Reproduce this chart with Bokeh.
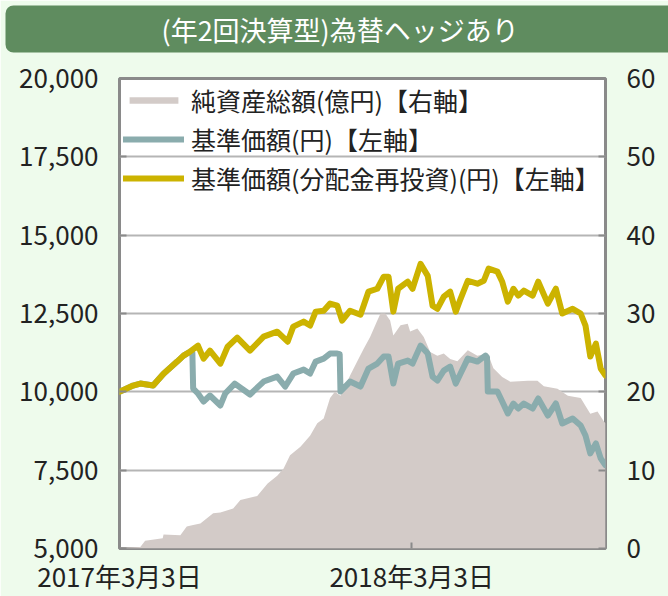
import pandas as pd
from bokeh.plotting import figure
from bokeh.models import (Range1d, LinearAxis, FixedTicker, NumeralTickFormatter, Title,
                          CustomJSTickFormatter, Legend, LegendItem, ColumnDataSource)
from bokeh.embed import file_html
from bokeh.resources import INLINE

# ---------------- data ----------------
title_text = "(年2回決算型)為替ヘッジあり"
legend_labels = ["純資産総額(億円)【右軸】", "基準価額(円)【左軸】", "基準価額(分配金再投資)(円)【左軸】"]
x_tick_dates = ["2017-03-03", "2018-03-03"]
x_tick_labels = ["2017年3月3日", "2018年3月3日"]
x_start, x_end = "2017-03-03", "2018-10-31"
left_ticks = [5000, 7500, 10000, 12500, 15000, 17500, 20000]
right_ticks = [0, 10, 20, 30, 40, 50, 60]

assets_dates = ["2017-03-03", "2017-03-29", "2017-04-04", "2017-04-26", "2017-04-27", "2017-05-18",
                "2017-05-26", "2017-06-03", "2017-06-12", "2017-06-28", "2017-07-07", "2017-07-23",
                "2017-08-01", "2017-08-22", "2017-09-04", "2017-09-16", "2017-09-24", "2017-10-02",
                "2017-10-15", "2017-10-27", "2017-11-05", "2017-11-13", "2017-11-21", "2017-11-27",
                "2017-12-04", "2017-12-16", "2017-12-25", "2018-01-02", "2018-01-10", "2018-01-19",
                "2018-01-23", "2018-01-29", "2018-02-04", "2018-02-08", "2018-02-17", "2018-02-26",
                "2018-03-01", "2018-03-10", "2018-03-18", "2018-03-26", "2018-04-04", "2018-04-12",
                "2018-04-20", "2018-04-29", "2018-05-12", "2018-05-24", "2018-06-06", "2018-06-13",
                "2018-06-24", "2018-07-04", "2018-07-26", "2018-08-07", "2018-08-15", "2018-09-01",
                "2018-09-14", "2018-09-30", "2018-10-12", "2018-10-21", "2018-10-29", "2018-10-31"]
assets_values = [0.1, 0.2, 1.0, 1.3, 1.8, 1.7,
                 2.8, 3.0, 3.2, 4.5, 4.6, 5.1,
                 6.2, 6.7, 8.3, 9.3, 10.2, 11.9,
                 13.0, 14.4, 16.0, 16.6, 19.2, 20.0,
                 19.5, 22.1, 23.9, 25.5, 27.0, 29.1,
                 30.0, 30.0, 29.1, 27.2, 28.5, 28.7,
                 27.7, 28.1, 27.0, 25.1, 24.6, 24.9,
                 24.2, 23.9, 25.3, 24.6, 24.9, 23.0,
                 21.9, 21.3, 21.4, 21.4, 20.7, 20.4,
                 19.5, 19.2, 17.2, 17.5, 16.2, 16.0]

nav_dates = ["2017-03-03", "2017-03-20", "2017-03-29", "2017-04-14", "2017-04-27", "2017-05-14",
             "2017-05-22", "2017-05-30", "2017-06-02", "2017-06-03", "2017-06-09", "2017-06-16",
             "2017-06-24", "2017-07-07", "2017-07-13", "2017-07-25", "2017-08-13", "2017-08-30",
             "2017-09-16", "2017-09-26", "2017-10-06", "2017-10-19", "2017-10-27", "2017-11-03",
             "2017-11-13", "2017-11-21", "2017-11-30", "2017-12-03", "2017-12-04", "2017-12-16",
             "2017-12-29", "2018-01-08", "2018-01-19", "2018-01-27", "2018-02-02", "2018-02-08",
             "2018-02-14", "2018-02-26", "2018-03-04", "2018-03-14", "2018-03-23", "2018-03-29",
             "2018-04-04", "2018-04-12", "2018-04-20", "2018-04-27", "2018-05-03", "2018-05-12",
             "2018-05-24", "2018-06-03", "2018-06-05", "2018-06-06", "2018-06-18", "2018-06-24",
             "2018-07-01", "2018-07-08", "2018-07-14", "2018-07-21", "2018-08-01", "2018-08-08",
             "2018-08-20", "2018-08-30", "2018-09-07", "2018-09-20", "2018-09-30", "2018-10-06",
             "2018-10-12", "2018-10-19", "2018-10-25", "2018-10-31"]
nav_values = [10000, 10200, 10265, 10200, 10580, 10965,
              11155, 11280, 11250, 10105, 9946, 9691,
              9882, 9564, 9946, 10264, 9914, 10328,
              10487, 10169, 10583, 10710, 10583, 10965,
              11060, 11220, 11220, 11200, 10010, 10328,
              10169, 10742, 10902, 11125, 11125, 10264,
              10902, 10997, 10902, 11475, 11220, 10487,
              10360, 10678, 10806, 10264, 10583, 11060,
              10965, 11156, 11100, 10010, 10010, 9691,
              9309, 9627, 9468, 9627, 9468, 9787,
              9245, 9627, 8990, 9150, 8927, 8608,
              8035, 8353, 7876, 7653]

reinv_dates = ["2017-03-03", "2017-03-20", "2017-03-29", "2017-04-14", "2017-04-27", "2017-05-14",
               "2017-05-22", "2017-05-30", "2017-06-09", "2017-06-16", "2017-06-24", "2017-07-07",
               "2017-07-16", "2017-07-28", "2017-08-13", "2017-08-30", "2017-09-16", "2017-09-29",
               "2017-10-06", "2017-10-19", "2017-10-27", "2017-11-03", "2017-11-13", "2017-11-21",
               "2017-11-30", "2017-12-06", "2017-12-16", "2017-12-29", "2018-01-08", "2018-01-19",
               "2018-01-27", "2018-02-02", "2018-02-08", "2018-02-14", "2018-02-26", "2018-03-04",
               "2018-03-14", "2018-03-23", "2018-03-29", "2018-04-04", "2018-04-12", "2018-04-20",
               "2018-04-27", "2018-05-03", "2018-05-12", "2018-05-24", "2018-06-01", "2018-06-07",
               "2018-06-18", "2018-06-24", "2018-07-01", "2018-07-08", "2018-07-14", "2018-07-21",
               "2018-08-01", "2018-08-08", "2018-08-20", "2018-08-30", "2018-09-07", "2018-09-20",
               "2018-09-30", "2018-10-06", "2018-10-12", "2018-10-19", "2018-10-25", "2018-10-31"]
reinv_values = [10000, 10200, 10265, 10200, 10580, 10965,
                11155, 11280, 11475, 11060, 11315, 10900,
                11440, 11730, 11315, 11760, 11920, 11600,
                12080, 12240, 12115, 12560, 12590, 12815,
                12750, 12270, 12590, 12460, 13200, 13290,
                13675, 13675, 12560, 13290, 13515, 13290,
                14085, 13700, 12750, 12650, 13035, 13195,
                12560, 12970, 13545, 13450, 13545, 13930,
                13835, 13515, 12880, 13290, 13070, 13230,
                13070, 13515, 12815, 13290, 12500, 12650,
                12500, 12115, 11130, 11540, 10745, 10520]

# ---------------- style ----------------
BG = "#eefbec"
BANNER = "#5f8c5f"
FRAME = "#8a8a8a"
GRID = "#b5b5b5"
AREA = "#d3cbc8"
NAV = "#8aacad"
REINV = "#ccb300"
FONT = "Noto Sans CJK JP"
TXT = "#222222"

W, H = 668, 596
FL, FR, FT, FB = 119, 605, 78, 550   # frame edges on the canvas

title = Title(text=title_text, align="left", offset=5 - FL, standoff=2,
              text_color="white", text_font=FONT, text_font_size="27px", text_font_style="normal",
              background_fill_color=BANNER, border_line_color=None, border_radius=8,
              padding=dict(left=156, right=170, top=4, bottom=4))

p = figure(width=W, height=H, x_axis_type="datetime", output_backend="svg",
           toolbar_location=None, title=title,
           x_range=Range1d(pd.Timestamp(x_start), pd.Timestamp(x_end)),
           y_range=Range1d(left_ticks[0], left_ticks[-1]),
           min_border_left=FL, min_border_right=W - FR, min_border_top=FT, min_border_bottom=H - FB,
           background_fill_color="white", border_fill_color=BG,
           outline_line_color=FRAME, outline_line_width=3)
p.extra_y_ranges = {"assets": Range1d(right_ticks[0], right_ticks[-1])}

# empty spacer between the banner and the plot frame
p.add_layout(Title(text=" ", text_font_size="2px", standoff=21,
                   background_fill_color=None, border_line_color=None), "above")

src_a = ColumnDataSource(dict(x=pd.to_datetime(assets_dates), y=assets_values))
src_n = ColumnDataSource(dict(x=pd.to_datetime(nav_dates), y=nav_values))
src_r = ColumnDataSource(dict(x=pd.to_datetime(reinv_dates), y=reinv_values))

r_area = p.varea(x="x", y1=0, y2="y", source=src_a, y_range_name="assets", fill_color=AREA)
r_nav = p.line(x="x", y="y", source=src_n, line_color=NAV, line_width=6,
               line_join="round", line_cap="round")
r_reinv = p.line(x="x", y="y", source=src_r, line_color=REINV, line_width=6,
                 line_join="round", line_cap="round")

p.xgrid.visible = False
p.ygrid.grid_line_color = GRID
p.ygrid.grid_line_width = 2

right_axis = LinearAxis(y_range_name="assets")
p.add_layout(right_axis, "right")

p.yaxis[0].ticker = FixedTicker(ticks=left_ticks)
p.yaxis[0].formatter = NumeralTickFormatter(format="0,0")
right_axis.ticker = FixedTicker(ticks=right_ticks)

tick_ms = [pd.Timestamp(d).value / 1e6 for d in x_tick_dates]
p.xaxis.ticker = FixedTicker(ticks=tick_ms)
p.xaxis.formatter = CustomJSTickFormatter(args=dict(labels=x_tick_labels, tms=tick_ms), code="""
let best = 0, bd = Infinity;
for (let i = 0; i < tms.length; i++) { const d = Math.abs(tms[i] - tick); if (d < bd) { bd = d; best = i; } }
return labels[best];
""")

for ax in p.axis:
    ax.axis_line_color = None
    ax.major_tick_line_color = FRAME
    ax.major_tick_line_width = 2
    ax.major_tick_in = 7
    ax.major_tick_out = 0
    ax.minor_tick_line_color = None
    ax.major_label_text_font = FONT
    ax.major_label_text_font_size = "26px"
    ax.major_label_text_color = TXT
for ax in p.yaxis:
    ax.major_label_standoff = 21
p.xaxis.major_label_standoff = 8
p.xaxis.major_tick_in = 6

legend = Legend(items=[LegendItem(label=legend_labels[0], renderers=[r_area]),
                       LegendItem(label=legend_labels[1], renderers=[r_nav]),
                       LegendItem(label=legend_labels[2], renderers=[r_reinv])],
                location="top_left", margin=0, padding=4, spacing=3,
                glyph_width=61, glyph_height=8, label_standoff=7,
                label_text_font=FONT, label_text_font_size="25px", label_text_color=TXT,
                background_fill_alpha=0, border_line_alpha=0)
p.add_layout(legend)

html = file_html(p, INLINE)
html = html.replace("<body>", '<body style="background-color:%s">' % BG, 1)
open("out.html", "w").write(html)
